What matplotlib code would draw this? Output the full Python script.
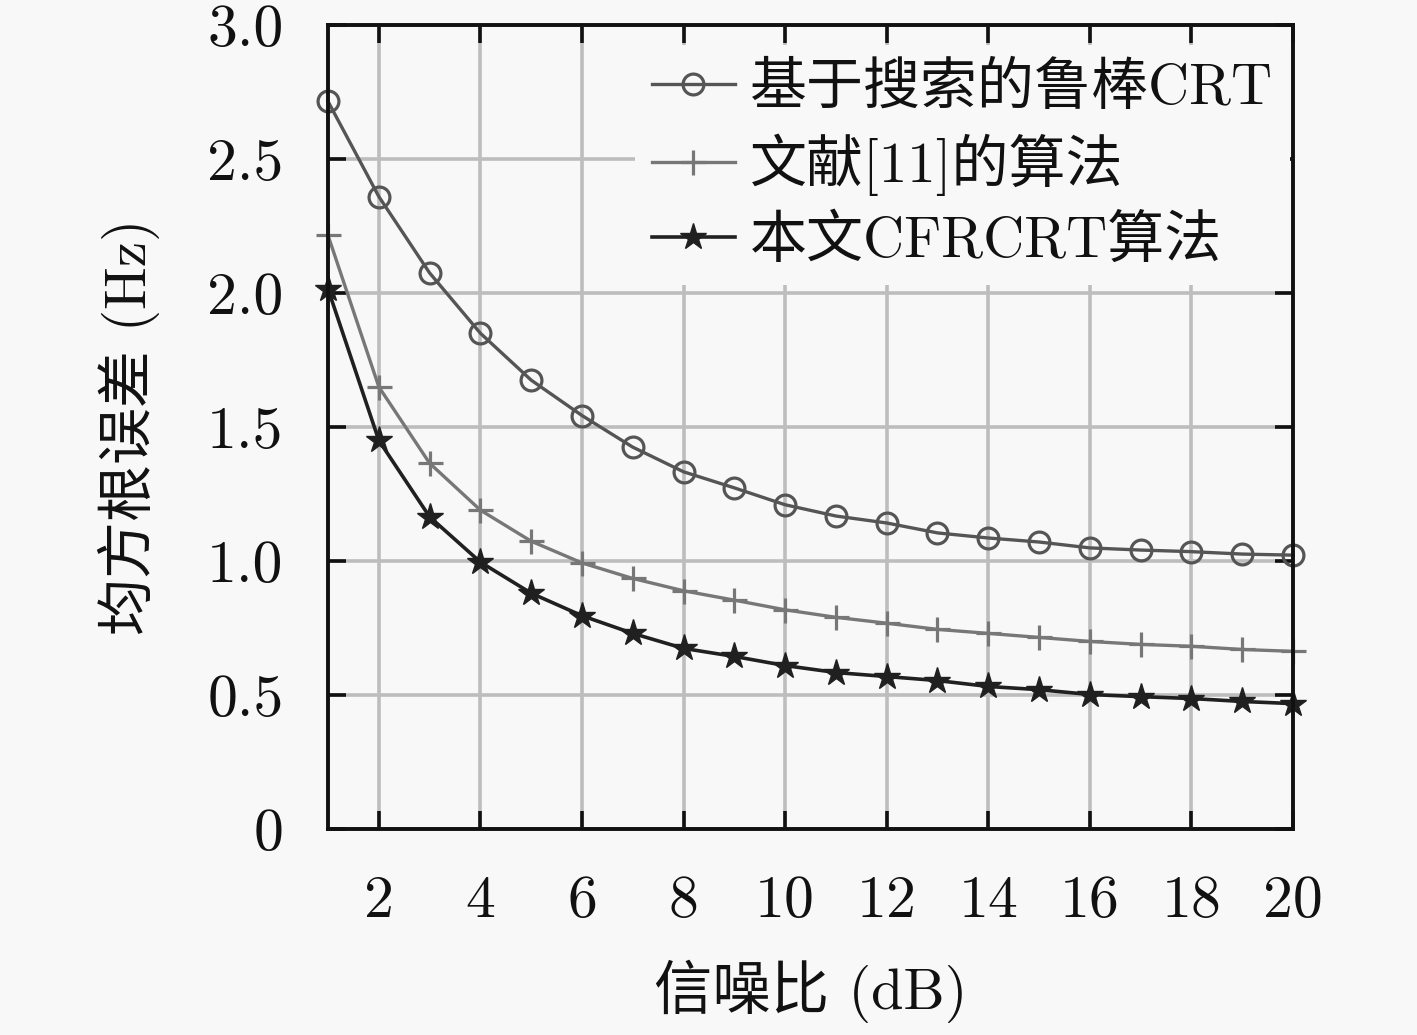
import numpy as np
import matplotlib.pyplot as plt

plt.rcParams['font.family'] = ['cmr10', 'Noto Sans CJK SC', 'DejaVu Sans']
plt.rcParams['axes.formatter.use_mathtext'] = True

# SNR (dB)
snr = np.arange(1, 21)

# RMSE (Hz)
rmse_search = [2.715, 2.36, 2.075, 1.85, 1.675, 1.543, 1.425, 1.333, 1.273, 1.21,
               1.168, 1.142, 1.105, 1.086, 1.071, 1.049, 1.041, 1.035, 1.026, 1.022]
rmse_ref11 = [2.215, 1.65, 1.365, 1.19, 1.074, 0.993, 0.935, 0.889, 0.854, 0.818,
              0.790, 0.768, 0.745, 0.730, 0.715, 0.700, 0.689, 0.682, 0.670, 0.663]
rmse_cfrcrt = [2.015, 1.45, 1.165, 0.996, 0.88, 0.796, 0.73, 0.674, 0.644, 0.61,
               0.584, 0.569, 0.554, 0.532, 0.52, 0.502, 0.494, 0.487, 0.476, 0.468]

labels = ['基于搜索的鲁棒CRT', '文献[11]的算法', '本文CFRCRT算法']
xticks = [2, 4, 6, 8, 10, 12, 14, 16, 18, 20]
yticks = [0, 0.5, 1.0, 1.5, 2.0, 2.5, 3.0]
ytick_labels = ['0', '0.5', '1.0', '1.5', '2.0', '2.5', '3.0']

bg = '#f8f8f8'
ink = '#111111'
fig = plt.figure(figsize=(14.17, 10.35), dpi=100, facecolor=bg)
ax = fig.add_axes([0.2315, 0.199, 0.681, 0.7768])
ax.set_facecolor(bg)

ax.plot(snr, rmse_search, '-o', color='#555555', lw=2.4, ms=15, mfc='none',
        mew=2.3, label=labels[0], clip_on=False, zorder=3)
ax.plot(snr, rmse_ref11, '-+', color='#777777', lw=2.4, ms=18, mew=2.3,
        label=labels[1], clip_on=False, zorder=3)
ax.plot(snr, rmse_cfrcrt, '-*', color='#202020', lw=2.6, ms=20,
        label=labels[2], clip_on=False, zorder=4)

ax.set_xlim(1, 20)
ax.set_ylim(0, 3)
ax.set_xticks(xticks)
ax.set_xticklabels([str(t) for t in xticks])
ax.set_yticks(yticks)
ax.set_yticklabels(ytick_labels)

ax.grid(True, color='#bdbdbd', lw=2.6)
ax.set_axisbelow(True)
for s in ax.spines.values():
    s.set_linewidth(2.8)
    s.set_color(ink)
    s.set_zorder(6)

ax.tick_params(axis='x', direction='in', length=13, width=2.6, pad=33,
               labelsize=43, top=True, colors=ink)
ax.tick_params(axis='y', direction='in', length=13, width=2.6, pad=32,
               labelsize=43, right=True, colors=ink)

ax.set_xlabel('信噪比 (dB)', fontsize=42, labelpad=22, color=ink)
ax.set_ylabel('均方根误差 (Hz)', fontsize=41, labelpad=34, color=ink)

leg = ax.legend(loc='upper right', bbox_to_anchor=(1.0, 0.979), fontsize=41,
                frameon=True, facecolor=bg, edgecolor='none', framealpha=1,
                borderaxespad=0.05, handlelength=1.45, handletextpad=0.27,
                labelspacing=0.32, borderpad=0.3)
leg.set_zorder(2.45)
for t in leg.get_texts():
    t.set_color(ink)

fig.savefig('out.png', dpi=100, facecolor=bg)
